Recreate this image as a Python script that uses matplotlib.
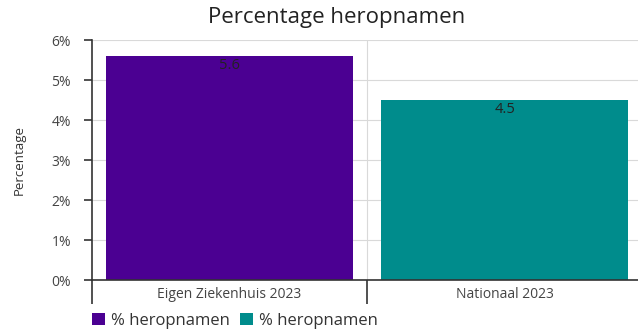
import matplotlib
matplotlib.use("Agg")
import matplotlib.pyplot as plt
from matplotlib.patches import Patch
from matplotlib.ticker import FuncFormatter, FixedLocator

categories = ["Eigen Ziekenhuis 2023", "Nationaal 2023"]
values = [5.6, 4.5]
series_labels = ["% heropnamen", "% heropnamen"]
colors = ["#4B0092", "#008C8C"]
yticks = [0, 1, 2, 3, 4, 5, 6]

plt.rcParams['font.family'] = ['Open Sans', 'DejaVu Sans']

fig = plt.figure(figsize=(6.38, 3.32), dpi=100)
ax = fig.add_axes([92/638, 1-280/332, 1-92/638, 240/332])

x = list(range(len(categories)))
bars = ax.bar(x, values, width=0.9, color=colors, zorder=2)
for xi, v in zip(x, values):
    ax.text(xi, v - 0.04, f"{v:.1f}", ha="center", va="top", fontsize=10.5, color="#222222", zorder=3)

ax.set_xlim(-0.5, 1.485)
ax.set_ylim(0, 6)
ax.set_yticks(yticks)
ax.yaxis.set_major_formatter(FuncFormatter(lambda v, p: f"{int(v)}%"))
ax.set_xticks(x)
ax.set_xticklabels(categories)
ax.xaxis.set_minor_locator(FixedLocator([-0.5, 0.5]))
ax.tick_params(axis="x", which="major", length=0, labelsize=10, labelcolor="#444444", pad=5)
ax.tick_params(axis="x", which="minor", length=17, width=1.2, color="#333333")
ax.tick_params(axis="y", length=6, width=1.2, labelsize=10, labelcolor="#444444", color="#333333", pad=9)

ax.grid(axis="y", color="#d9d9d9", linewidth=0.8, zorder=0)
ax.axvline(0.5, color="#d9d9d9", linewidth=0.8, zorder=0)
for s in ["top", "right"]:
    ax.spines[s].set_visible(False)
ax.spines["left"].set_color("#333333")
ax.spines["bottom"].set_color("#333333")
ax.spines["left"].set_linewidth(1.2)
ax.spines["bottom"].set_linewidth(1.2)

ax.set_ylabel("Percentage", fontsize=9.5, color="#333333")
ax.yaxis.set_label_coords(-66/546, 0.5)
fig.text(337/638, 1-18/332, "Percentage heropnamen", ha="center", va="center", fontsize=16, color="#222222")

handles = [Patch(facecolor=c, edgecolor="none") for c in colors]
fig.legend(handles, series_labels, loc="center left", bbox_to_anchor=(77/638, 1-321/332),
           ncol=2, frameon=False, fontsize=12, handlelength=0.75, handleheight=0.75,
           handletextpad=0.4, columnspacing=0.6, labelcolor="#333333")

fig.savefig("out.png", dpi=100)
